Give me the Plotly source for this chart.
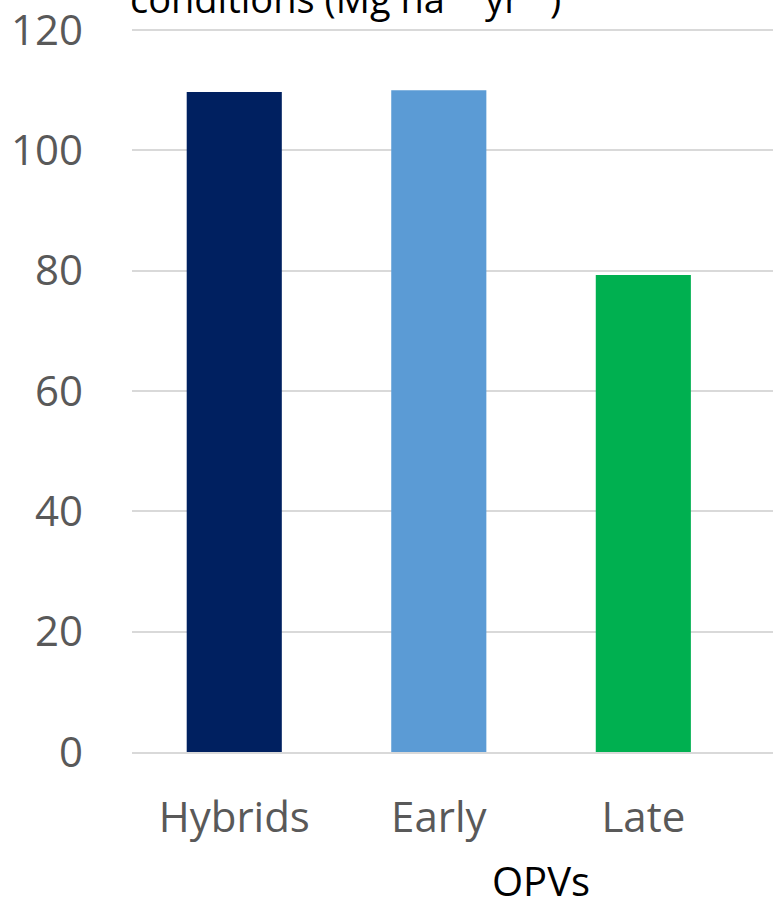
import plotly.graph_objects as go

categories = ["Hybrids", "Early", "Late"]
values = [109.7, 110.0, 79.3]
colors = ["#002060", "#5B9BD5", "#00B050"]
y_ticks = [0, 20, 40, 60, 80, 100, 120]

fig = go.Figure(
    go.Bar(
        x=categories,
        y=values,
        marker=dict(color=colors, line=dict(width=0)),
        width=0.465,
    )
)

fig.update_layout(
    width=773,
    height=897,
    margin=dict(l=132, r=0, t=20, b=145),
    paper_bgcolor="white",
    plot_bgcolor="white",
    showlegend=False,
    font=dict(family="Open Sans", color="#595959"),
    xaxis=dict(
        type="category",
        range=[-0.5, 2.634],
        showgrid=False,
        showline=True,
        linecolor="#D9D9D9",
        linewidth=1.5,
        ticks="",
        tickfont=dict(size=42, color="#595959"),
        ticklabelstandoff=28,
    ),
    yaxis=dict(
        range=[0, 121],
        tickvals=y_ticks,
        showgrid=True,
        gridcolor="#D9D9D9",
        gridwidth=1.5,
        zeroline=False,
        showline=False,
        ticks="",
        tickfont=dict(size=42, color="#595959"),
        ticklabelstandoff=48,
        ticklabeloverflow="allow",
    ),
    annotations=[
        dict(
            text="conditions (Mg ha<sup>−1</sup> yr<sup>−1</sup>)",
            xref="paper", yref="paper",
            x=0.0, y=1.0,
            xanchor="left", yanchor="bottom",
            xshift=-4,
            yshift=-2,
            showarrow=False,
            font=dict(size=38, color="black", family="Open Sans"),
        ),
        dict(
            text="OPVs",
            xref="x", yref="paper",
            x=1.5, y=0,
            xanchor="center", yanchor="middle",
            yshift=-128,
            showarrow=False,
            font=dict(size=40, color="black", family="Open Sans"),
        ),
    ],
)

fig.write_html("out.html")
